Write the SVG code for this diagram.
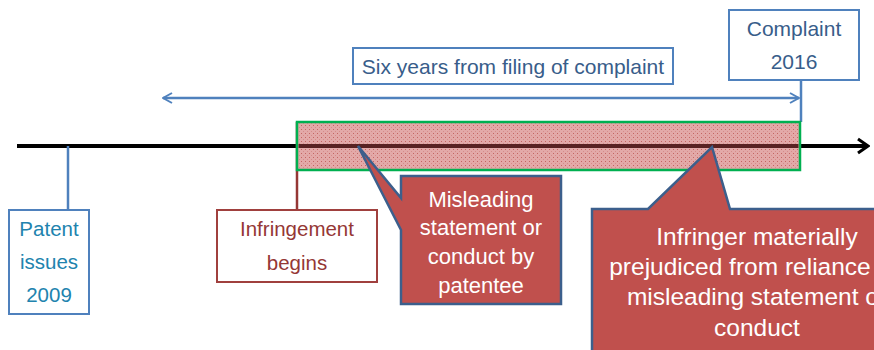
<svg xmlns="http://www.w3.org/2000/svg" width="874" height="350" viewBox="0 0 874 350">
<defs>
<style>
.t{font-family:"Liberation Sans",Arial,sans-serif;font-size:20.5px;text-anchor:middle}
.blue{fill:#385D8A}
.teal{fill:#2183AE}
.red{fill:#953735}
.white{fill:#FFFFFF}
.c1{font-size:22px}
.c2{font-size:24.5px}
.bbox{fill:#FFFFFF;stroke:#4F81BD;stroke-width:2}
.rbox{fill:#FFFFFF;stroke:#A0403E;stroke-width:2}
.callout{fill:#C0504D;stroke:#3C5F8C;stroke-width:2.5;stroke-linejoin:miter}
</style>
<pattern id="dots" width="4" height="4" patternUnits="userSpaceOnUse">
<rect width="4" height="4" fill="#E3A9A8"/>
<rect x="1" y="1" width="1" height="1" fill="#C46563"/>
<rect x="3" y="3" width="1" height="1" fill="#D58C8A"/>
</pattern>
<marker id="openArrow" viewBox="0 0 12 12" refX="11" refY="6" markerWidth="12" markerHeight="12" markerUnits="userSpaceOnUse" orient="auto-start-reverse">
<path d="M2,1 L11,6 L2,11" fill="none" stroke="#4F81BD" stroke-width="2"/>
</marker>
<marker id="blackArrow" viewBox="0 0 14 18" refX="12" refY="9" markerWidth="14" markerHeight="18" markerUnits="userSpaceOnUse" orient="auto">
<path d="M2,2 L12,9 L2,16" fill="none" stroke="#000" stroke-width="3"/>
</marker>
</defs>

<g id="connectors">
<line x1="17" y1="146" x2="868" y2="146" stroke="#000" stroke-width="4" marker-end="url(#blackArrow)"/>
<line x1="68" y1="146" x2="68" y2="210" stroke="#4F81BD" stroke-width="2.5"/>
<line x1="297" y1="122" x2="297" y2="210" stroke="#953735" stroke-width="2.5"/>
<line x1="801" y1="80" x2="801" y2="122" stroke="#4F81BD" stroke-width="2.5"/>
<line x1="163" y1="98" x2="799" y2="98" stroke="#4F81BD" stroke-width="2.5" marker-start="url(#openArrow)" marker-end="url(#openArrow)"/>
</g>

<g id="period">
<rect x="297" y="122" width="503" height="48" fill="url(#dots)" stroke="#00B050" stroke-width="2.5"/>
<line x1="298.5" y1="146" x2="798.5" y2="146" stroke="#5A2222" stroke-width="4"/>
</g>

<g id="six-years">
<rect class="bbox" x="353" y="48" width="320" height="36"/>
<text class="t blue" x="513" y="74" style="font-size:21px">Six years from filing of complaint</text>
</g>

<g id="complaint">
<rect class="bbox" x="729" y="10" width="130" height="70"/>
<text class="t blue" x="794" y="36" style="font-size:21px">Complaint</text>
<text class="t blue" x="794" y="69" style="font-size:21px">2016</text>
</g>

<g id="patent">
<rect class="bbox" x="9" y="210" width="80" height="104"/>
<text class="t teal" x="49" y="236">Patent</text>
<text class="t teal" x="49" y="269">issues</text>
<text class="t teal" x="49" y="302">2009</text>
</g>

<g id="infringement">
<rect class="rbox" x="217" y="210" width="160" height="72"/>
<text class="t red" x="297" y="236">Infringement</text>
<text class="t red" x="297" y="270">begins</text>
</g>

<g id="misleading">
<path class="callout" d="M401,176 L561,176 L561,304 L401,304 L401,230 L358,146 L401,198 Z"/>
<text class="t white c1" x="481" y="207">Misleading</text>
<text class="t white c1" x="481" y="235">statement or</text>
<text class="t white c1" x="481" y="264">conduct by</text>
<text class="t white c1" x="481" y="293">patentee</text>
</g>

<g id="prejudiced">
<path class="callout" d="M592,209 L648,209 L712,147 L730,209 L880,209 L880,360 L592,360 Z"/>
<text class="t white c2" x="757" y="245">Infringer materially</text>
<text class="t white c2" x="757" y="275">prejudiced from reliance on</text>
<text class="t white c2" x="757" y="305">misleading statement or</text>
<text class="t white c2" x="757" y="336">conduct</text>
</g>
</svg>
